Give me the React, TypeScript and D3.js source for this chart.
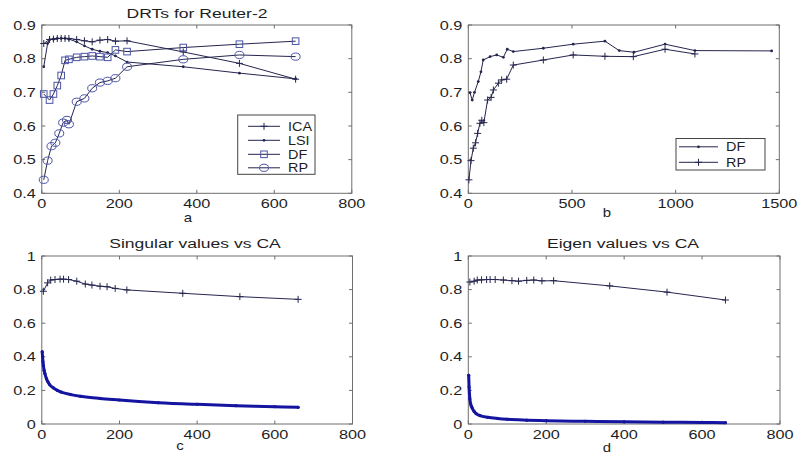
import { useEffect, useRef } from 'react'
import * as d3 from 'd3'

// --- panel a: DRTs for Reuter-2 ---
const ICA_A_X = [5, 20, 30, 40, 50, 60, 70, 90, 110, 130, 150, 170, 190, 220, 365, 510, 655]
const ICA_A_Y = [0.845, 0.857, 0.858, 0.86, 0.86, 0.86, 0.86, 0.857, 0.853, 0.85, 0.855, 0.857, 0.852, 0.853, 0.82, 0.786, 0.739]
const LSI_A_X = [5, 15, 20, 30, 40, 50, 60, 70, 90, 110, 130, 150, 170, 190, 220, 365, 510, 655]
const LSI_A_Y = [0.776, 0.845, 0.856, 0.858, 0.86, 0.86, 0.86, 0.858, 0.85, 0.838, 0.828, 0.822, 0.818, 0.808, 0.79, 0.776, 0.757, 0.74]
const DF_A_X = [5, 20, 30, 40, 50, 60, 70, 90, 110, 130, 150, 170, 190, 220, 365, 510, 655]
const DF_A_Y = [0.695, 0.677, 0.695, 0.72, 0.75, 0.795, 0.798, 0.804, 0.806, 0.808, 0.806, 0.804, 0.826, 0.821, 0.833, 0.843, 0.852]
const RP_A_X = [5, 15, 25, 35, 45, 55, 65, 70, 90, 110, 130, 150, 170, 190, 220, 365, 510, 655]
const RP_A_Y = [0.44, 0.497, 0.54, 0.55, 0.578, 0.61, 0.618, 0.605, 0.672, 0.682, 0.712, 0.729, 0.734, 0.742, 0.776, 0.798, 0.811, 0.806]

// --- panel b ---
const DF_B_X = [8, 19, 30, 48, 61, 72, 105, 137, 169, 188, 217, 362, 506, 659, 728, 799, 949, 1093, 1463]
const DF_B_Y = [0.699, 0.677, 0.7, 0.732, 0.761, 0.796, 0.806, 0.811, 0.804, 0.828, 0.821, 0.831, 0.843, 0.852, 0.824, 0.819, 0.843, 0.824, 0.823]
const RP_B_X = [3, 13, 24, 35, 45, 56, 65, 75, 93, 110, 121, 145, 161, 185, 217, 362, 506, 659, 796, 949, 1093]
const RP_B_Y = [0.44, 0.497, 0.534, 0.55, 0.578, 0.608, 0.617, 0.61, 0.677, 0.685, 0.707, 0.727, 0.737, 0.739, 0.781, 0.796, 0.811, 0.807, 0.806, 0.828, 0.814]

// --- panel c: Singular values vs CA ---
const LSI_C_X = [4, 15, 23, 34, 47, 56, 69, 90, 112, 129, 150, 168, 189, 219, 363, 510, 660]
const LSI_C_Y = [0.79, 0.84, 0.857, 0.86, 0.862, 0.862, 0.86, 0.85, 0.833, 0.827, 0.82, 0.817, 0.807, 0.798, 0.778, 0.758, 0.742]
const SV_X = [1, 2, 3, 4, 6, 8, 12, 16, 20, 30, 40, 50, 75, 100, 150, 200, 250, 300, 400, 500, 600, 660]
const SV_Y = [0.43, 0.4, 0.37, 0.35, 0.32, 0.3, 0.27, 0.25, 0.235, 0.215, 0.2, 0.19, 0.175, 0.165, 0.152, 0.143, 0.134, 0.127, 0.117, 0.109, 0.103, 0.099]

// --- panel d: Eigen values vs CA ---
const ICA_D_X = [4, 15, 23, 34, 47, 56, 69, 90, 112, 129, 150, 168, 189, 219, 363, 510, 660]
const ICA_D_Y = [0.845, 0.85, 0.857, 0.858, 0.86, 0.86, 0.86, 0.857, 0.853, 0.85, 0.855, 0.857, 0.852, 0.853, 0.822, 0.785, 0.738]
const EV_X = [1, 2, 3, 4, 6, 8, 10, 15, 20, 30, 50, 75, 100, 150, 200, 300, 400, 500, 600, 660]
const EV_Y = [0.29, 0.22, 0.18, 0.15, 0.12, 0.105, 0.095, 0.075, 0.062, 0.05, 0.04, 0.033, 0.028, 0.023, 0.02, 0.016, 0.013, 0.011, 0.009, 0.008]

const X_TICKS_800 = [0, 200, 400, 600, 800]
const X_TICKS_1500 = [0, 500, 1000, 1500]
const Y_TICKS_TOP = [0.4, 0.5, 0.6, 0.7, 0.8, 0.9]
const Y_TICKS_BOT = [0, 0.2, 0.4, 0.6, 0.8, 1]

const FONT = '"Liberation Sans", Arial, Helvetica, sans-serif'
const LINE = '#25254f'
const MARK = '#4c54a6'
const BLUE = '#1414a0'
const AXIS = '#6e6e6e'

type G = d3.Selection<SVGGElement, unknown, null, undefined>
type Box = { l: number; r: number; t: number; b: number }

function txt(g: G, x: number, y: number, s: string, anchor = 'middle', size = 13, sx = 1.25) {
  g.append('text')
    .attr('transform', `translate(${x},${y}) scale(${sx},1)`)
    .attr('text-anchor', anchor)
    .attr('font-size', size)
    .attr('font-family', FONT)
    .attr('fill', '#1e1e1e')
    .text(s)
}

function frame(g: G, box: Box, xDom: number[], yDom: number[], xTicks: number[], yTicks: number[]) {
  const x = d3.scaleLinear().domain(xDom).range([box.l, box.r])
  const y = d3.scaleLinear().domain(yDom).range([box.b, box.t])
  g.append('rect')
    .attr('x', box.l).attr('y', box.t)
    .attr('width', box.r - box.l).attr('height', box.b - box.t)
    .attr('fill', 'white').attr('stroke', AXIS).attr('stroke-width', 1)
  xTicks.forEach(v => {
    const px = x(v)
    g.append('line').attr('x1', px).attr('x2', px).attr('y1', box.b).attr('y2', box.b - 3.5).attr('stroke', AXIS)
    g.append('line').attr('x1', px).attr('x2', px).attr('y1', box.t).attr('y2', box.t + 3.5).attr('stroke', AXIS)
    txt(g, px, box.b + 15, String(v))
  })
  yTicks.forEach(v => {
    const py = y(v)
    g.append('line').attr('x1', box.l).attr('x2', box.l + 3.5).attr('y1', py).attr('y2', py).attr('stroke', AXIS)
    g.append('line').attr('x1', box.r).attr('x2', box.r - 3.5).attr('y1', py).attr('y2', py).attr('stroke', AXIS)
    txt(g, box.l - 6, py + 4.6, String(v), 'end')
  })
  return { x, y }
}

function marker(g: G, kind: string, px: number, py: number) {
  if (kind === 'plus') {
    g.append('path').attr('d', `M${px - 3.5},${py}H${px + 3.5}M${px},${py - 3.5}V${py + 3.5}`)
      .attr('stroke', LINE).attr('stroke-width', 1).attr('fill', 'none')
  } else if (kind === 'dot') {
    g.append('circle').attr('cx', px).attr('cy', py).attr('r', 1.4).attr('fill', LINE)
  } else if (kind === 'square') {
    g.append('rect').attr('x', px - 3.3).attr('y', py - 3.3).attr('width', 6.6).attr('height', 6.6)
      .attr('fill', 'none').attr('stroke', MARK).attr('stroke-width', 1)
  } else if (kind === 'circle') {
    g.append('ellipse').attr('cx', px).attr('cy', py).attr('rx', 4.5).attr('ry', 3.6)
      .attr('fill', 'none').attr('stroke', MARK).attr('stroke-width', 1)
  }
}

function series(g: G, sc: { x: d3.ScaleLinear<number, number>; y: d3.ScaleLinear<number, number> },
  xs: number[], ys: number[], kind: string) {
  const pts = xs.map((v, i) => [sc.x(v), sc.y(ys[i])] as [number, number])
  g.append('path').attr('d', d3.line()(pts)).attr('fill', 'none').attr('stroke', LINE).attr('stroke-width', 1)
  pts.forEach(p => marker(g, kind, p[0], p[1]))
}

function thick(g: G, sc: { x: d3.ScaleLinear<number, number>; y: d3.ScaleLinear<number, number> },
  xs: number[], ys: number[]) {
  const pts = xs.map((v, i) => [sc.x(v), sc.y(ys[i])] as [number, number])
  g.append('path').attr('d', d3.line().curve(d3.curveMonotoneX)(pts))
    .attr('fill', 'none').attr('stroke', BLUE).attr('stroke-width', 3).attr('stroke-linecap', 'round')
  pts.forEach(p => g.append('circle').attr('cx', p[0]).attr('cy', p[1]).attr('r', 1.6).attr('fill', BLUE))
}

function legend(g: G, box: Box, items: { name: string; kind: string }[], lx: number[], tx: number, ys: number[]) {
  g.append('rect').attr('x', box.l).attr('y', box.t).attr('width', box.r - box.l).attr('height', box.b - box.t)
    .attr('fill', 'white').attr('stroke', '#444').attr('stroke-width', 1)
  items.forEach((it, i) => {
    const yy = ys[i]
    g.append('line').attr('x1', lx[0]).attr('x2', lx[1]).attr('y1', yy).attr('y2', yy).attr('stroke', LINE)
    marker(g, it.kind, (lx[0] + lx[1]) / 2, yy)
    txt(g, tx, yy + 4.3, it.name, 'start', 12, 1.2)
  })
}

export default function App() {
  const svgRef = useRef<SVGSVGElement>(null)

  useEffect(() => {
    if (!svgRef.current) return
    const svg = d3.select(svgRef.current)
    svg.selectAll('*').remove()
    const root = svg.append('g') as unknown as G

    // a
    const ga = root.append('g')
    const sa = frame(ga, { l: 41.8, r: 351.8, t: 25, b: 193.3 }, [0, 800], [0.4, 0.9], X_TICKS_800, Y_TICKS_TOP)
    series(ga, sa, LSI_A_X, LSI_A_Y, 'dot')
    series(ga, sa, ICA_A_X, ICA_A_Y, 'plus')
    series(ga, sa, DF_A_X, DF_A_Y, 'square')
    series(ga, sa, RP_A_X, RP_A_Y, 'circle')
    legend(ga, { l: 237.7, r: 315, t: 115, b: 174.3 },
      [{ name: 'ICA', kind: 'plus' }, { name: 'LSI', kind: 'dot' }, { name: 'DF', kind: 'square' }, { name: 'RP', kind: 'circle' }],
      [248, 280], 288, [126.3, 140.3, 154.3, 167.8])
    txt(ga, 197, 18, 'DRTs for Reuter-2', 'middle', 13.5, 1.3)
    txt(ga, 188, 222, 'a', 'middle', 13, 1.15)

    // b
    const gb = root.append('g')
    const sb = frame(gb, { l: 468.3, r: 779.3, t: 25, b: 193.3 }, [0, 1500], [0.4, 0.9], X_TICKS_1500, Y_TICKS_TOP)
    series(gb, sb, DF_B_X, DF_B_Y, 'dot')
    series(gb, sb, RP_B_X, RP_B_Y, 'plus')
    legend(gb, { l: 676, r: 765, t: 138.5, b: 170 },
      [{ name: 'DF', kind: 'dot' }, { name: 'RP', kind: 'plus' }],
      [679, 718], 726, [146.8, 162.3])
    txt(gb, 607, 217, 'b', 'middle', 13, 1.15)

    // c
    const gc = root.append('g')
    const sc = frame(gc, { l: 41.8, r: 352.5, t: 256, b: 424 }, [0, 800], [0, 1], X_TICKS_800, Y_TICKS_BOT)
    series(gc, sc, LSI_C_X, LSI_C_Y, 'plus')
    thick(gc, sc, SV_X, SV_Y)
    txt(gc, 195, 248, 'Singular values vs CA', 'middle', 13.5, 1.3)
    txt(gc, 180, 450, 'c', 'middle', 13, 1.15)

    // d
    const gd = root.append('g')
    const sd = frame(gd, { l: 468.3, r: 780, t: 256, b: 424 }, [0, 800], [0, 1], X_TICKS_800, Y_TICKS_BOT)
    series(gd, sd, ICA_D_X, ICA_D_Y, 'plus')
    thick(gd, sd, EV_X, EV_Y)
    txt(gd, 623, 248, 'Eigen values vs CA', 'middle', 13.5, 1.3)
    txt(gd, 607, 452, 'd', 'middle', 13, 1.15)
  }, [])

  return (
    <svg ref={svgRef} width={800} height={465}
      style={{ position: 'absolute', left: 0, top: 0, background: 'white' }} />
  )
}
